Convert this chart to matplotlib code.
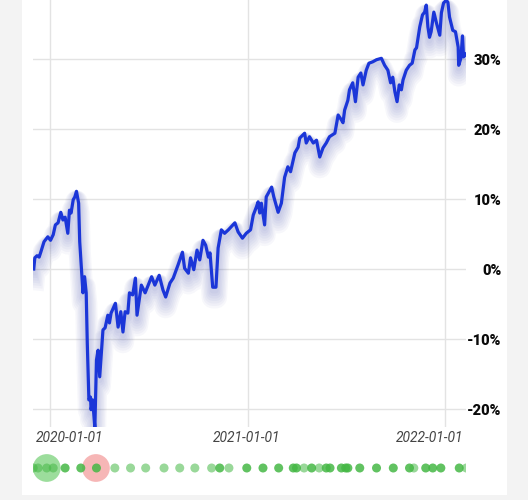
import numpy as np
import pandas as pd
import matplotlib
matplotlib.use("Agg")
import matplotlib.pyplot as plt
import matplotlib.patheffects as pe
from matplotlib.patches import Rectangle

# ---------------- data ----------------
BASE = pd.Timestamp("2020-01-01")

# days relative to 2020-01-01 and cumulative return in %
day_offsets = [-30, -28, -24, -20, -17, -11, -4, 1, 6, 10, 15, 20, 24, 28, 33, 36, 39, 43, 46, 49,
               53, 55, 59, 61, 64, 67, 69, 72, 75, 76, 79, 83, 86, 89, 92, 95, 98, 102, 107, 110,
               113, 121, 126, 131, 135, 139, 144, 147, 153, 158, 161, 169, 176, 188, 194, 202, 209,
               214, 222, 228, 237, 245, 249, 256, 260, 266, 272, 277, 283, 288, 293, 296, 301, 307,
               311, 317, 323, 330, 342, 348, 356, 363, 371, 376, 382, 385, 388, 391, 397, 400, 410,
               414, 422, 428, 434, 440, 445, 453, 459, 462, 471, 474, 480, 487, 493, 499, 505, 511,
               517, 527, 533, 539, 542, 545, 551, 554, 560, 565, 570, 575, 579, 585, 590, 597, 604,
               613, 619, 625, 630, 634, 638, 642, 646, 650, 653, 659, 665, 670, 675, 678, 684, 689,
               693, 696, 699, 702, 705, 710, 715, 721, 724, 728, 733, 736, 739, 745, 750, 755, 756,
               760, 763, 765, 769]
returns_pct = [0.0, 1.6, 1.9, 1.7, 2.4, 3.9, 4.6, 4.1, 4.9, 6.3, 6.6, 8.1, 7.0, 7.4, 5.1, 8.4, 8.0, 9.9, 10.3, 11.1,
               9.4, 3.9, -1.1, -3.4, -1.1, -3.4, -10.6, -18.7, -18.3, -20.1, -18.7, -22.7, -13.0, -11.6, -15.4, -12.0, -8.7, -8.4, -6.6, -7.7,
               -6.3, -4.9, -8.3, -6.1, -9.0, -6.1, -6.3, -3.4, -3.7, -1.3, -6.6, -2.3, -3.4, -1.1, -2.3, -0.9, -3.0,
               -4.0, -2.0, -1.3, 0.6, 2.4, 0.1, -0.6, 1.6, -0.1, 2.7, 1.3, 4.1, 3.4, 1.7, 2.3, -2.6, -2.6,
               3.0, 5.6, 5.1, 5.6, 6.6, 5.3, 4.4, 5.1, 5.6, 7.7, 8.9, 9.6, 8.0, 9.4, 6.3, 10.3, 11.7,
               10.3, 8.1, 9.4, 13.1, 14.6, 13.9, 16.6, 17.4, 18.7, 19.4, 18.0, 18.9, 18.0, 18.4, 16.0, 17.3, 18.0,
               18.9, 19.4, 22.0, 21.3, 20.9, 22.7, 24.1, 25.6, 26.6, 23.9, 27.4, 28.0, 26.3, 28.4, 29.4, 29.6, 29.9,
               30.1, 29.1, 28.4, 26.6, 27.4, 25.3, 23.9, 26.3, 25.6, 27.0, 28.4, 29.1, 29.4, 31.3, 31.6, 34.6, 36.3,
               36.7, 37.7, 34.6, 33.1, 33.9, 36.7, 35.1, 33.4, 36.6, 38.0, 38.4, 38.1, 36.0, 34.1, 33.9, 31.7, 29.1,
               30.1, 33.3, 30.3, 30.7]

x_tick_labels = ["2020-01-01", "2021-01-01", "2022-01-01"]
y_ticks = [-20, -10, 0, 10, 20, 30]
y_tick_labels = ["-20%", "-10%", "0%", "10%", "20%", "30%"]

# trade markers (days relative to 2020-01-01)
trade_days_strong = [28, 57, 86, 314, 364, 394, 423, 450, 456, 484, 511, 518, 539, 547, 551, 573,
                     604, 635, 665, 695, 708, 723, 757]
trade_days_light = [-31, -22, -6, 6, 120, 149, 177, 211, 240, 268, 299, 331, 470, 498, 673, 770]
big_buy_days = [-6]
big_sell_days = [85]

# ---------------- figure ----------------
W, H = 528, 500
fig = plt.figure(figsize=(W / 100, H / 100), dpi=100, facecolor="#f3f3f3")
fig.patches.append(Rectangle((22 / W, 5 / H), 485 / W, 1 - 5 / H, transform=fig.transFigure,
                             facecolor="white", edgecolor="none", zorder=-10))

ax = fig.add_axes([33 / W, 1 - 427 / H, 433 / W, 427 / H])
ax.set_facecolor("none")
for s in ax.spines.values():
    s.set_visible(False)

dates = BASE + pd.to_timedelta(day_offsets, unit="D")
effects = [pe.SimpleLineShadow(offset=(0, -2.5 - 0.8 * i), shadow_color="#3340a8",
                               alpha=0.038, linewidth=4 + 2.0 * i) for i in range(7)]
effects.append(pe.Normal())
ax.plot(dates, returns_pct, color="#1b36d8", lw=2.3, solid_joinstyle="round",
        path_effects=effects, zorder=3)

ax.set_ylim(-22.57, 38.43)
ax.set_xlim(BASE + pd.Timedelta(days=-31.4), BASE + pd.Timedelta(days=769.5))

ax.yaxis.tick_right()
ax.set_yticks(y_ticks)
ax.set_yticklabels(y_tick_labels, fontfamily="Roboto", fontweight="heavy", fontsize=10.5,
                   color="#0a0a0a", ha="right")
ax.tick_params(axis="y", length=0, pad=25.5)

tick_dates = [pd.Timestamp(t) for t in x_tick_labels]
ax.set_xticks(tick_dates)
ax.set_xticklabels([])
ax.tick_params(axis="x", length=0)
ax.grid(True, color="#e3e3e3", lw=1.0)
ax.set_axisbelow(True)

lab_kw = dict(fontfamily="Roboto", fontstyle="italic", fontsize=10, color="#444444", va="center")
ax.annotate(x_tick_labels[0], xy=(0, 0), xycoords="axes fraction", xytext=(3, -11),
            textcoords="offset pixels", ha="left", **lab_kw)
ax.annotate(x_tick_labels[1], xy=(tick_dates[1], 0), xycoords=("data", "axes fraction"),
            xytext=(-1, -11), textcoords="offset pixels", ha="center", **lab_kw)
ax.annotate(x_tick_labels[2], xy=(1, 0), xycoords="axes fraction", xytext=(-3, -11),
            textcoords="offset pixels", ha="right", **lab_kw)

# ---------------- trade dots row ----------------
ax2 = fig.add_axes([33 / W, 0.034, 433 / W, 0.06])
ax2.axis("off")
ax2.set_xlim(ax.get_xlim())
ax2.set_ylim(-1, 1)

def to_dates(days):
    return BASE + pd.to_timedelta(days, unit="D")

ax2.scatter(to_dates(big_buy_days), [0] * len(big_buy_days), s=400, color="#4cc24c",
            alpha=0.55, edgecolors="none")
ax2.scatter(to_dates(big_sell_days), [0] * len(big_sell_days), s=400, color="#ee6f6f",
            alpha=0.5, edgecolors="none")
ax2.scatter(to_dates(trade_days_light), [0] * len(trade_days_light), s=42, color="#45b845",
            alpha=0.55, edgecolors="none")
ax2.scatter(to_dates(trade_days_strong), [0] * len(trade_days_strong), s=42, color="#45b845",
            alpha=0.85, edgecolors="none")

fig.savefig("out.png", dpi=100, facecolor=fig.get_facecolor())
